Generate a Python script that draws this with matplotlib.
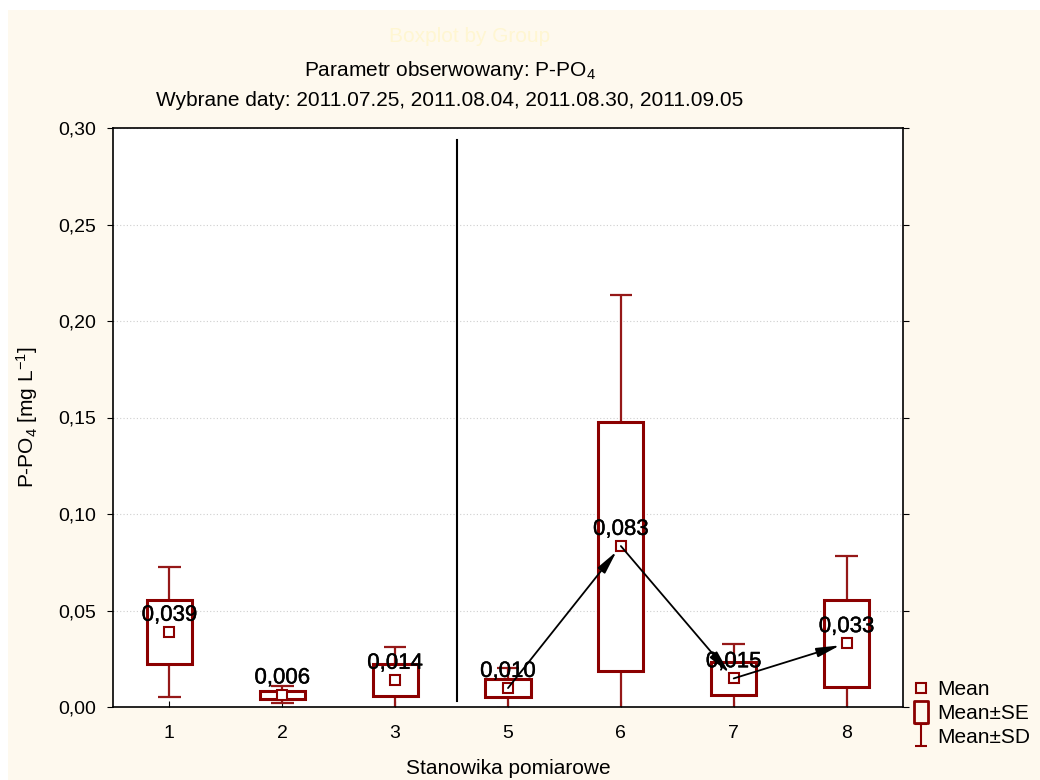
import matplotlib
matplotlib.use("Agg")
from matplotlib import pyplot as plt
from matplotlib.lines import Line2D
from matplotlib.path import Path
from matplotlib.patches import Rectangle
import matplotlib.patheffects as pe
from matplotlib.ticker import FuncFormatter

plt.rcParams['font.family'] = ['Liberation Sans', 'DejaVu Sans']
plt.rcParams['mathtext.fontset'] = 'custom'
plt.rcParams['mathtext.rm'] = 'Liberation Sans'
plt.rcParams['mathtext.it'] = 'Liberation Sans:italic'

# Data (station, mean, standard error, standard deviation)
stations = ['1', '2', '3', '5', '6', '7', '8']
means = [0.0389, 0.0064, 0.0140, 0.0098, 0.0834, 0.0148, 0.0330]
se = [0.0165, 0.0020, 0.0083, 0.0046, 0.0645, 0.0086, 0.0225]
sd = [0.0336, 0.0045, 0.0169, 0.0102, 0.1303, 0.0176, 0.0452]
# stations connected by arrows (indices)
arrow_pairs = [(3, 4), (4, 5), (5, 6)]

DARK_RED = '#8B0000'
WHISKER = '#951818'
CREAM = '#FEF9EE'

fig = plt.figure(figsize=(10.4, 7.8), dpi=100, facecolor='white')
# cream background with a thin white margin at top/left
fig.patches.append(Rectangle((8 / 1040, 0), 1, 1 - 10 / 780, transform=fig.transFigure,
                             facecolor=CREAM, edgecolor='none', zorder=-10))

ax = fig.add_axes([113 / 1040, 73 / 780, 790 / 1040, 579 / 780])
ax.set_facecolor('white')

pos = list(range(len(stations)))
box_w = 0.4
cap_w = 0.2

for i, x in enumerate(pos):
    m, s, d = means[i], se[i], sd[i]
    # whiskers (mean +- SD)
    ax.vlines(x, m + s, m + d, color=WHISKER, lw=1.6, zorder=2)
    ax.vlines(x, m - d, m - s, color=WHISKER, lw=1.6, zorder=2)
    ax.hlines([m + d, m - d], x - cap_w / 2, x + cap_w / 2, color=WHISKER, lw=1.6, zorder=2)
    # box (mean +- SE)
    ax.add_patch(Rectangle((x - box_w / 2, m - s), box_w, 2 * s, facecolor='white',
                           edgecolor=DARK_RED, lw=2.2, zorder=3))

ax.plot(pos, means, ls='none', marker='s', ms=7.5, mfc='white', mec=DARK_RED, mew=1.5, zorder=5)

for a, b in arrow_pairs:
    ax.annotate('', xy=(pos[b], means[b]), xytext=(pos[a], means[a]),
                arrowprops=dict(arrowstyle='-|>,head_length=1.0,head_width=0.2',
                                color='black', lw=1.3, shrinkA=0, shrinkB=5,
                                mutation_scale=14),
                zorder=6)

for i, x in enumerate(pos):
    lbl = f"{means[i]:.3f}".replace('.', ',')
    ax.annotate(lbl, (x, means[i]), xytext=(0, 12), textcoords='offset points',
                ha='center', va='center', fontsize=16, color='black', zorder=7,
                path_effects=[pe.withStroke(linewidth=0.3, foreground='black')])

# separator between station groups
ax.axvline(2.55, ymin=0.01, ymax=0.98, color='black', lw=1.5, zorder=4)

ax.set_xlim(-0.5, len(stations) - 0.5)
ax.set_ylim(0, 0.30)
ax.set_xticks(pos)
ax.set_xticklabels(stations)
ax.set_yticks([0, 0.05, 0.10, 0.15, 0.20, 0.25, 0.30])
ax.yaxis.set_major_formatter(FuncFormatter(lambda v, p: f"{v:.2f}".replace('.', ',')))
ax.tick_params(axis='x', direction='in', length=4, pad=13, labelsize=14)
ax.tick_params(axis='y', direction='out', length=4, pad=8, labelsize=14, right=True)
ax.grid(axis='y', color='#cfcfcf', ls=(0, (1, 2)), lw=0.8)
ax.set_axisbelow(True)
for sp in ax.spines.values():
    sp.set_linewidth(1.2)

ax.set_xlabel('Stanowika pomiarowe', fontsize=15, labelpad=12)
ax.set_ylabel('P-PO$_4$ [mg L$^{-1}$]', fontsize=15)
ax.yaxis.set_label_coords(-0.092, 0.5)

fig.text(470 / 1040, 1 - 37 / 780, 'Boxplot by Group', ha='center', va='center',
         fontsize=15, color='#FFF6D2')
fig.text(450 / 1040, 1 - 70 / 780, 'Parametr obserwowany: P-PO$_4$', ha='center', va='center',
         fontsize=15)
fig.text(450 / 1040, 1 - 101 / 780, 'Wybrane daty: 2011.07.25, 2011.08.04, 2011.08.30, 2011.09.05',
         ha='center', va='center', fontsize=15)

# legend
se_marker = Path([(-0.33, -0.5), (0.33, -0.5), (0.33, 0.5), (-0.33, 0.5), (-0.33, -0.5)],
                 [Path.MOVETO, Path.LINETO, Path.LINETO, Path.LINETO, Path.CLOSEPOLY])
sd_marker = Path([(-0.25, 0.5), (0.25, 0.5), (0, 0.5), (0, -0.5), (-0.25, -0.5), (0.25, -0.5)],
                 [Path.MOVETO, Path.LINETO, Path.MOVETO, Path.LINETO, Path.MOVETO, Path.LINETO])
handles = [
    Line2D([], [], ls='none', marker='s', ms=7, mfc='none', mec=DARK_RED, mew=1.5),
    Line2D([], [], ls='none', marker=se_marker, ms=16, mfc='none', mec=DARK_RED, mew=2),
    Line2D([], [], ls='none', marker=sd_marker, ms=16, mfc='none', mec=DARK_RED, mew=1.5),
]
ax.legend(handles, ['Mean', 'Mean±SE', 'Mean±SD'], loc='lower left',
          bbox_to_anchor=(0.997, -0.09), frameon=False, fontsize=15,
          handlelength=0.8, handletextpad=0.35, labelspacing=0.22, borderaxespad=0.2)

fig.savefig('out.png', dpi=100, facecolor=fig.get_facecolor())
